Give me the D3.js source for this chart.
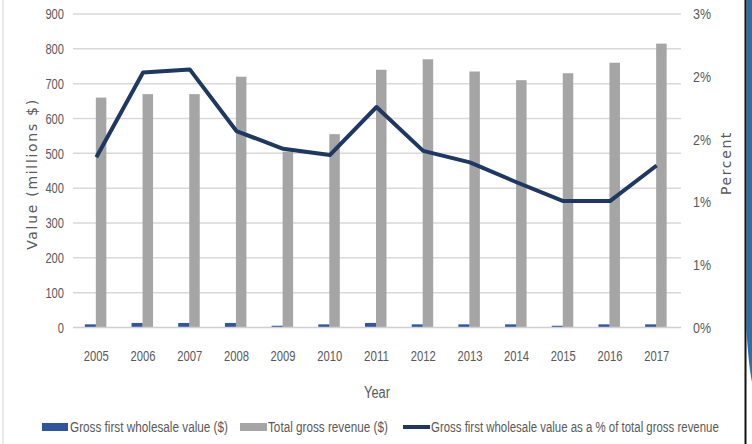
<!DOCTYPE html>
<html><head><meta charset="utf-8">
<script src="https://cdn.jsdelivr.net/npm/d3@7"></script>
<style>
html,body{margin:0;padding:0;background:#fff;}
svg{display:block;}
.tick text{font-family:"Liberation Sans Narrow","Liberation Sans",sans-serif;}
</style></head>
<body>
<svg id="chart" width="752" height="444"></svg>
<script>
const years = ["2005","2006","2007","2008","2009","2010","2011","2012","2013","2014","2015","2016","2017"];
const wholesaleValue = [9, 13, 13, 13, 5, 9, 13, 9, 9, 9, 5, 9, 9];
const totalRevenue = [660, 670, 670, 720, 505, 555, 740, 770, 735, 710, 730, 760, 815];
const wholesalePct = [0.0163, 0.0244, 0.0247, 0.0188, 0.0171, 0.0165, 0.0211, 0.0169, 0.0158, 0.0139, 0.0121, 0.0121, 0.0155];
const leftTicks = [0,100,200,300,400,500,600,700,800,900];
const rightTicks = [0,0.006,0.012,0.018,0.024,0.030];
const legendLabels = ["Gross first wholesale value ($)","Total gross revenue ($)","Gross first wholesale value as a % of total gross revenue"];

const svg = d3.select("#chart");
const narrow = '"Liberation Sans Narrow","Liberation Sans",sans-serif';
const textCol = "#595959";

// slide frame decorations
svg.append("line").attr("x1",3).attr("x2",3).attr("y1",0).attr("y2",444).attr("stroke","#e3e3e3").attr("stroke-width",1.5);
svg.append("path").attr("d","M746.5,0 H752 V382 Q748.5,365 746.5,330 Z").attr("fill","#2e6ea6");
svg.append("line").attr("x1",745.5).attr("x2",745.5).attr("y1",0).attr("y2",444).attr("stroke","#111").attr("stroke-width",2);

const x = d3.scaleBand().domain(years).range([73, 680]).padding(0);
const yL = d3.scaleLinear().domain([0,900]).range([327.5,14]);
const yR = d3.scaleLinear().domain([0,0.03]).range([327.5,14]);

// gridlines
svg.append("g").selectAll("line").data(leftTicks.filter(d=>d>0)).join("line")
  .attr("x1",73).attr("x2",681).attr("y1",d=>yL(d)).attr("y2",d=>yL(d))
  .attr("stroke","#d9d9d9").attr("stroke-width",1.5);

// left axis
const gl = svg.append("g").attr("transform","translate(64,0)")
  .call(d3.axisLeft(yL).tickValues(leftTicks).tickSize(0).tickPadding(0));
gl.select(".domain").remove();
gl.selectAll("text").attr("fill",textCol).attr("font-size",15)
  .attr("textLength",function(){return this.textContent.length*6.2;}).attr("lengthAdjust","spacingAndGlyphs");

// right axis
const gr = svg.append("g").attr("transform","translate(693,0)")
  .call(d3.axisRight(yR).tickValues(rightTicks).tickSize(0).tickPadding(0).tickFormat(d3.format(".0%")));
gr.select(".domain").remove();
gr.selectAll("text").attr("fill",textCol).attr("font-size",15)
  .attr("textLength",18).attr("lengthAdjust","spacingAndGlyphs");

// bars
const c = i => x(years[i]) + x.bandwidth()/2;
svg.append("g").selectAll("rect").data(totalRevenue).join("rect")
  .attr("x",(d,i)=>c(i)-0.5).attr("width",10.5)
  .attr("y",d=>yL(d)).attr("height",d=>yL(0)-yL(d)).attr("fill","#a5a5a5");
svg.append("g").selectAll("rect").data(wholesaleValue).join("rect")
  .attr("x",(d,i)=>c(i)-11.5).attr("width",11)
  .attr("y",d=>yL(d)).attr("height",d=>yL(0)-yL(d)).attr("fill","#2f55a0");

// x axis baseline
svg.append("line").attr("x1",73).attr("x2",681).attr("y1",yL(0)).attr("y2",yL(0)).attr("stroke","#d0d0d0").attr("stroke-width",1.5);

// x axis
const gx = svg.append("g").attr("transform","translate(0,350)")
  .call(d3.axisBottom(x).tickSize(0).tickPadding(0));
gx.select(".domain").remove();
gx.selectAll("text").attr("fill",textCol).attr("font-size",15)
  .attr("textLength",25).attr("lengthAdjust","spacingAndGlyphs");

// line
const line = d3.line().x((d,i)=>c(i)).y(d=>yR(d));
svg.append("path").datum(wholesalePct).attr("d",line)
  .attr("fill","none").attr("stroke","#1f3763").attr("stroke-width",4).attr("stroke-linejoin","round");

// axis titles
svg.append("text").attr("transform","translate(37,174) rotate(-90)").attr("text-anchor","middle")
  .attr("font-family","DejaVu Sans, sans-serif").attr("font-size",14).attr("letter-spacing",1.7)
  .attr("fill",textCol).text("Value (millions $)");
svg.append("text").attr("transform","translate(731,163) rotate(-90)").attr("text-anchor","middle")
  .attr("font-family","DejaVu Sans, sans-serif").attr("font-size",14).attr("letter-spacing",1.6)
  .attr("fill",textCol).text("Percent");

// condensed text helper: scale horizontally to a target width
function condensed(parent, tx, ty, str, size, width, anchor) {
  const g = parent.append("g");
  const t = g.append("text").attr("font-family",narrow).attr("font-size",size)
    .attr("fill",textCol).attr("text-anchor",anchor||"start").text(str);
  const w = t.node().getComputedTextLength();
  g.attr("transform",`translate(${tx},${ty}) scale(${width/w},1)`);
  return g;
}
condensed(svg, 377, 398, "Year", 16, 26, "middle");

// legend
const lg = svg.append("g");
lg.append("rect").attr("x",42).attr("y",423).attr("width",26).attr("height",8).attr("fill","#2f55a0");
condensed(lg, 70, 432, legendLabels[0], 15, 158);
lg.append("rect").attr("x",240).attr("y",423).attr("width",27).attr("height",8).attr("fill","#a5a5a5");
condensed(lg, 268, 432, legendLabels[1], 15, 120);
lg.append("line").attr("x1",403).attr("x2",430).attr("y1",427).attr("y2",427).attr("stroke","#1f3763").attr("stroke-width",4);
condensed(lg, 431, 432, legendLabels[2], 15, 288);
</script>
</body></html>
